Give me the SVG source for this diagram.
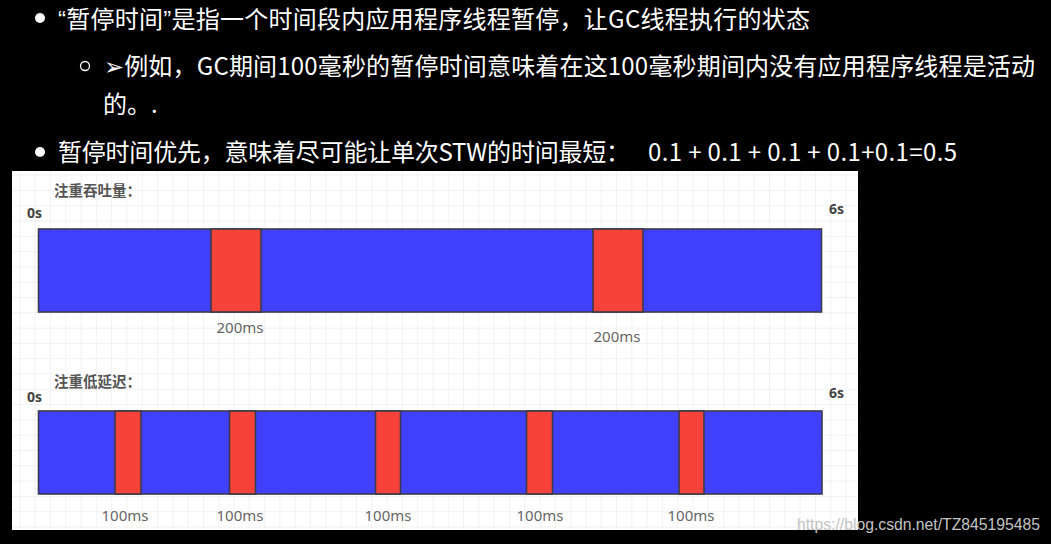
<svg xmlns="http://www.w3.org/2000/svg" width="1051" height="544" viewBox="0 0 1051 544">
<defs>
<pattern id="grid" x="5" y="-8" width="15.3" height="15.3" patternUnits="userSpaceOnUse">
<path d="M15.3 0V15.3M0 15.3H15.3" fill="none" stroke="#e6e6e6" stroke-width="1"/>
</pattern>
</defs>
<style>
.t{font-family:"Noto Sans CJK SC","Noto Sans",sans-serif;font-size:24px;fill:#fff}
.q{font-family:"Liberation Sans",sans-serif}
.blue{fill:#4040fe;stroke:#3a3a4a;stroke-width:1.6}
.red{fill:#f5433a;stroke:#3a3a4a;stroke-width:1.6}
.title{font-family:"Noto Sans CJK SC",sans-serif;font-size:14.5px;font-weight:bold;fill:#555}
.sec{font-family:"Open Sans","Noto Sans",sans-serif;font-size:14px;font-weight:bold;fill:#444}
.ms{font-family:"Noto Sans","Open Sans",sans-serif;font-size:15px;fill:#666;text-anchor:middle}
.wm{font-family:"Liberation Sans",sans-serif;font-size:16px;fill:#c4c4c4}
</style>
<rect width="1051" height="544" fill="#000"/>
<g id="text">
<circle cx="40" cy="18" r="5" fill="#fff"/>
<text class="t" x="58" y="28" textLength="752"><tspan class="q">“</tspan>暂停时间<tspan class="q">”</tspan>是指一个时间段内应用程序线程暂停，让GC线程执行的状态</text>
<circle cx="85" cy="66" r="4.5" fill="none" stroke="#fff" stroke-width="1.3"/>
<text class="t" x="104" y="75" textLength="931">➢例如，GC期间100毫秒的暂停时间意味着在这100毫秒期间内没有应用程序线程是活动</text>
<text class="t" x="103" y="113">的。.</text>
<circle cx="40" cy="152" r="5" fill="#fff"/>
<text class="t" x="58" y="161"><tspan textLength="572">暂停时间优先，意味着尽可能让单次STW的时间最短：</tspan><tspan x="648" textLength="309">0.1 + 0.1 + 0.1 + 0.1+0.1=0.5</tspan></text>
</g>
<g id="panel">
<rect x="12" y="171" width="846" height="359" fill="#fff"/>
<rect x="12" y="171" width="846" height="359" fill="url(#grid)"/>
</g>
<g id="throughput">
<text class="title" x="54" y="196">注重吞吐量：</text>
<text class="sec" x="27" y="218">0s</text>
<text class="sec" x="829" y="214">6s</text>
<rect class="blue" x="38.5" y="229" width="783" height="83"/>
<rect class="red" x="211" y="229" width="50" height="83"/>
<rect class="red" x="593" y="229" width="50" height="83"/>
<text class="ms" x="240" y="333">200ms</text>
<text class="ms" x="617" y="342">200ms</text>
</g>
<g id="latency">
<text class="title" x="54" y="387">注重低延迟：</text>
<text class="sec" x="27" y="402">0s</text>
<text class="sec" x="829" y="398">6s</text>
<rect class="blue" x="38.5" y="411" width="783.5" height="83"/>
<rect class="red" x="115" y="411" width="26" height="83"/>
<rect class="red" x="229.5" y="411" width="26" height="83"/>
<rect class="red" x="375.5" y="411" width="25" height="83"/>
<rect class="red" x="526.5" y="411" width="26" height="83"/>
<rect class="red" x="679" y="411" width="25" height="83"/>
<text class="ms" x="125" y="521">100ms</text>
<text class="ms" x="240" y="521">100ms</text>
<text class="ms" x="388" y="521">100ms</text>
<text class="ms" x="540" y="521">100ms</text>
<text class="ms" x="691" y="521">100ms</text>
</g>
<text class="wm" x="797" y="530" textLength="243" lengthAdjust="spacingAndGlyphs">https://blog.csdn.net/TZ845195485</text>
</svg>
